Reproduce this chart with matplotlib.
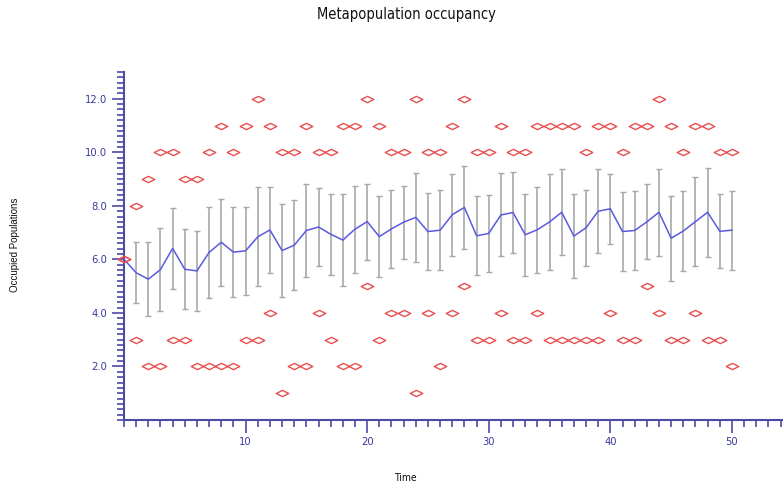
import matplotlib
matplotlib.use("Agg")
import matplotlib.pyplot as plt
import numpy as np
from matplotlib.path import Path
from matplotlib.ticker import MultipleLocator, FixedLocator

time = list(range(0, 51))
mean_occ = [6.00, 5.50, 5.26, 5.62, 6.41, 5.63, 5.57, 6.26, 6.64, 6.27,
            6.32, 6.84, 7.10, 6.33, 6.53, 7.08, 7.21, 6.94, 6.72, 7.13,
            7.41, 6.85, 7.14, 7.39, 7.57, 7.04, 7.09, 7.67, 7.94, 6.88,
            6.97, 7.66, 7.75, 6.92, 7.11, 7.40, 7.76, 6.87, 7.18, 7.80,
            7.89, 7.04, 7.08, 7.40, 7.76, 6.79, 7.06, 7.41, 7.76, 7.05,
            7.09]
sd_occ = [0.00, 1.14, 1.38, 1.56, 1.51, 1.49, 1.50, 1.70, 1.63, 1.67,
          1.64, 1.85, 1.59, 1.73, 1.67, 1.75, 1.46, 1.51, 1.71, 1.63,
          1.42, 1.50, 1.45, 1.36, 1.66, 1.44, 1.50, 1.53, 1.56, 1.48,
          1.45, 1.55, 1.50, 1.54, 1.60, 1.78, 1.60, 1.58, 1.42, 1.56,
          1.30, 1.46, 1.48, 1.40, 1.62, 1.58, 1.48, 1.66, 1.67, 1.39,
          1.48]
max_occ = [6, 8, 9, 10, 10, 9, 9, 10, 11, 10,
           11, 12, 11, 10, 10, 11, 10, 10, 11, 11,
           12, 11, 10, 10, 12, 10, 10, 11, 12, 10,
           10, 11, 10, 10, 11, 11, 11, 11, 10, 11,
           11, 10, 11, 11, 12, 11, 10, 11, 11, 10,
           10]
min_occ = [6, 3, 2, 2, 3, 3, 2, 2, 2, 2,
           3, 3, 4, 1, 2, 2, 4, 3, 2, 2,
           5, 3, 4, 4, 1, 4, 2, 4, 5, 3,
           3, 4, 3, 3, 4, 3, 3, 3, 3, 3,
           4, 3, 3, 5, 4, 3, 3, 4, 3, 3,
           2]
y_ticks = [2.0, 4.0, 6.0, 8.0, 10.0, 12.0]
x_ticks = [10, 20, 30, 40, 50]

axis_col = "#4a4aa8"
label_col = "#3a3a9a"
narrow = ["Liberation Sans Narrow", "DejaVu Sans"]

fig = plt.figure(figsize=(7.83, 4.86), dpi=100)
ax = fig.add_axes([124 / 783, 1 - 420 / 486, (783 - 124) / 783, (420 - 72) / 486])

t = np.array(time)
m = np.array(mean_occ)
s = np.array(sd_occ)

ax.errorbar(t[1:], m[1:], yerr=s[1:], fmt="none", ecolor="#a8a8a8",
            elinewidth=1.2, capsize=2.5, capthick=1.0, zorder=2)
ax.plot(t, m, color="#5a5ae0", lw=1.1, zorder=3)

diamond = Path([(-1, 0), (0, 0.5), (1, 0), (0, -0.5), (-1, 0)],
               [Path.MOVETO, Path.LINETO, Path.LINETO, Path.LINETO, Path.CLOSEPOLY])
for arr in (max_occ, min_occ):
    ax.plot(t, arr, linestyle="none", marker=diamond, markersize=9,
            markerfacecolor="none", markeredgecolor="#e85050",
            markeredgewidth=1.0, zorder=4, clip_on=False)

ax.set_xlim(0, 54.2)
ax.set_ylim(0, 13)
for sp in ("top", "right"):
    ax.spines[sp].set_visible(False)
for sp in ("left", "bottom"):
    ax.spines[sp].set_color(axis_col)
    ax.spines[sp].set_linewidth(1.5)

ax.xaxis.set_major_locator(FixedLocator(x_ticks))
ax.xaxis.set_minor_locator(MultipleLocator(1))
ax.yaxis.set_major_locator(FixedLocator(y_ticks))
ax.yaxis.set_minor_locator(MultipleLocator(0.2))
ax.set_yticklabels([f"{v:.1f}" for v in y_ticks])
ax.set_xticklabels([str(v) for v in x_ticks])
ax.tick_params(which="major", direction="out", length=9, width=1.2,
               color=axis_col, labelcolor=label_col, labelsize=8, pad=3)
ax.tick_params(which="minor", direction="out", length=5, width=1.2, color=axis_col)
for lab in ax.get_xticklabels() + ax.get_yticklabels():
    lab.set_family(narrow)
    lab.set_stretch("condensed")

fig.text(406 / 783, 1 - 15 / 486, "Metapopulation occupancy", ha="center", va="center",
         fontsize=10.5, family=narrow, stretch="condensed", color="#111111")
fig.text(405 / 783, 1 - 478 / 486, "Time", ha="center", va="center",
         fontsize=7.5, family=narrow, stretch="condensed", color="#111111")
fig.text(15 / 783, 1 - 245 / 486, "Occupied Populations", ha="center", va="center",
         rotation=90, fontsize=7, family=["Liberation Sans", "DejaVu Sans"], color="#111111")

fig.savefig("out.png", dpi=100)
